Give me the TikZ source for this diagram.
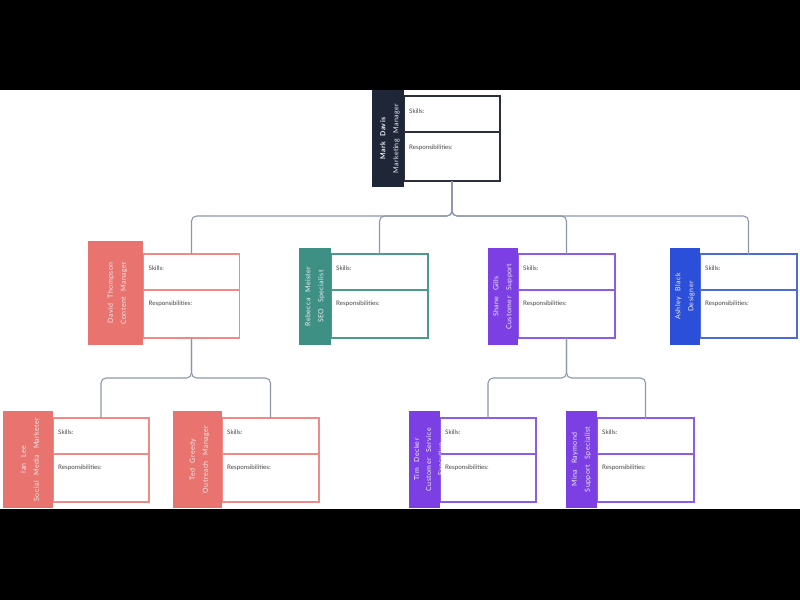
\documentclass[tikz,border=0pt]{standalone}
\usepackage{fontspec}
\setmainfont{Lato}
\newfontfamily\namefont{Lato}[LetterSpace=6,WordSpace=2.6]
\usetikzlibrary{calc}
\definecolor{navy}{HTML}{1F2638}
\definecolor{navyb}{HTML}{2B2F3B}
\definecolor{coral}{HTML}{E8736F}
\definecolor{coralb}{HTML}{EF8A86}
\definecolor{tealc}{HTML}{3F9084}
\definecolor{tealb}{HTML}{4C9A8E}
\definecolor{purp}{HTML}{7B3FE4}
\definecolor{purpb}{HTML}{8B5CEA}
\definecolor{bluec}{HTML}{2B4FD8}
\definecolor{blueb}{HTML}{4B6BDB}
\definecolor{linec}{HTML}{8C97AC}
\definecolor{txt}{HTML}{444444}
\begin{document}
\begin{tikzpicture}[x=1pt,y=-1pt,
  conn/.style={draw=linec, line width=1.1pt, rounded corners=5pt},
  colbox/.style={inner sep=0pt, outer sep=0pt, minimum height=97pt},
  card/.style={draw, fill=white, line width=1.3pt, inner sep=0pt, outer sep=0pt, minimum width=96pt, minimum height=84pt},
  divline/.style={line width=1.3pt},
  lbl/.style={anchor=west, inner sep=0pt, text=txt, font=\fontsize{6.2}{7}\selectfont},
  nametext/.style={rotate=90, align=center, text=white!94!black, inner sep=0pt, font=\namefont\fontsize{7}{13}\selectfont}]
\useasboundingbox (0,0) rectangle (800,600);

% ---------- Mark Davis ----------
\node[card, draw=navyb, minimum height=85pt] (md) at (452,138.5) {};
\draw[divline, navyb] ($(md.west)+(0,-6.5)$) -- ($(md.east)+(0,-6.5)$);
\node[colbox, fill=navy, minimum width=32pt] (mdc) at (388,138.5) {};
\node[nametext] (mdt) at ($(mdc.center)+(2,0)$) {\textbf{Mark Davis}\\Marketing Manager};
\node[lbl] (mds) at ($(md.north west)+(5,15)$) {Skills:};
\node[lbl] (mdr) at ($(md.west)+(5,9.5)$) {Responsibilities:};

% ---------- David Thompson ----------
\node[card, draw=coralb] (dt) at (191.5,296) {};
\draw[divline, coralb] ($(dt.west)+(0,-6)$) -- ($(dt.east)+(0,-6)$);
\node[colbox, fill=coral, minimum width=55pt, minimum height=104pt] (dtc) at (115.5,293) {};
\node[nametext] (dtt) at ($(dtc.center)+(2,0)$) {David Thompson\\Content Manager};
\node[lbl] (dts) at ($(dt.north west)+(5,14)$) {Skills:};
\node[lbl] (dtr) at ($(dt.west)+(5,8)$) {Responsibilities:};

% ---------- Rebecca Meister ----------
\node[card, draw=tealb, minimum width=97pt] (rm) at (379.5,296) {};
\draw[divline, tealb] ($(rm.west)+(0,-6)$) -- ($(rm.east)+(0,-6)$);
\node[colbox, fill=tealc, minimum width=32pt] (rmc) at (315,296.5) {};
\node[nametext] (rmt) at (rmc.center) {Rebecca Meister\\SEO Specialist};
\node[lbl] (rms) at ($(rm.north west)+(5,14)$) {Skills:};
\node[lbl] (rmr) at ($(rm.west)+(5,8)$) {Responsibilities:};

% ---------- Shane Gills ----------
\node[card, draw=purpb, minimum width=97pt] (sg) at (566.5,296) {};
\draw[divline, purpb] ($(sg.west)+(0,-6)$) -- ($(sg.east)+(0,-6)$);
\node[colbox, fill=purp, minimum width=30pt] (sgc) at (503,296.5) {};
\node[nametext] (sgt) at (sgc.center) {Shane Gills\\Customer Support};
\node[lbl] (sgs) at ($(sg.north west)+(5,14)$) {Skills:};
\node[lbl] (sgr) at ($(sg.west)+(5,8)$) {Responsibilities:};

% ---------- Ashley Black ----------
\node[card, draw=blueb, minimum width=97pt] (ab) at (748.5,296) {};
\draw[divline, blueb] ($(ab.west)+(0,-6)$) -- ($(ab.east)+(0,-6)$);
\node[colbox, fill=bluec, minimum width=30pt] (abc) at (685,296.5) {};
\node[nametext] (abt) at (abc.center) {Ashley Black\\Designer};
\node[lbl] (abs) at ($(ab.north west)+(5,14)$) {Skills:};
\node[lbl] (abr) at ($(ab.west)+(5,8)$) {Responsibilities:};

% ---------- Ian Lee ----------
\node[card, draw=coralb] (il) at (101,460) {};
\draw[divline, coralb] ($(il.west)+(0,-6)$) -- ($(il.east)+(0,-6)$);
\node[colbox, fill=coral, minimum width=50pt] (ilc) at (28,459.5) {};
\node[nametext] (ilt) at ($(ilc.center)+(2,0)$) {Ian Lee\\Social Media Marketer};
\node[lbl] (ils) at ($(il.north west)+(5,14)$) {Skills:};
\node[lbl] (ilr) at ($(il.west)+(5,8)$) {Responsibilities:};

% ---------- Ted Greedy ----------
\node[card, draw=coralb, minimum width=97pt] (tg) at (270.5,460) {};
\draw[divline, coralb] ($(tg.west)+(0,-6)$) -- ($(tg.east)+(0,-6)$);
\node[colbox, fill=coral, minimum width=49pt] (tgc) at (197.5,459.5) {};
\node[nametext] (tgt) at ($(tgc.center)+(2,0)$) {Ted Greedy\\Outreach Manager};
\node[lbl] (tgs) at ($(tg.north west)+(5,14)$) {Skills:};
\node[lbl] (tgr) at ($(tg.west)+(5,8)$) {Responsibilities:};

% ---------- Tim Decker ----------
\node[card, draw=purpb] (td) at (488,460) {};
\draw[divline, purpb] ($(td.west)+(0,-6)$) -- ($(td.east)+(0,-6)$);
\node[colbox, fill=purp, minimum width=31pt] (tdc) at (424.5,459.5) {};
\begin{scope}
\clip (tdc.south west) rectangle (tdc.north east);
\node[nametext, font=\namefont\fontsize{7}{12}\selectfont] (tdt) at ($(tdc.center)+(4,0)$) {Tim Decker\\Customer Service\\Executive};
\end{scope}
\node[lbl] (tds) at ($(td.north west)+(5,14)$) {Skills:};
\node[lbl] (tdr) at ($(td.west)+(5,8)$) {Responsibilities:};

% ---------- Mina Raymond ----------
\node[card, draw=purpb, minimum width=97pt] (mr) at (645.5,460) {};
\draw[divline, purpb] ($(mr.west)+(0,-6)$) -- ($(mr.east)+(0,-6)$);
\node[colbox, fill=purp, minimum width=31pt] (mrc) at (581.5,459.5) {};
\node[nametext] (mrt) at (mrc.center) {Mina Raymond\\Support Specialist};
\node[lbl] (mrs) at ($(mr.north west)+(5,14)$) {Skills:};
\node[lbl] (mrr) at ($(mr.west)+(5,8)$) {Responsibilities:};

% ---------- connectors ----------
\coordinate (bus1) at (452,216);
\draw[conn] (md.south) -- (bus1) -| (dt.north);
\draw[conn] (md.south) -- (bus1) -| (rm.north);
\draw[conn] (md.south) -- (bus1) -| (sg.north);
\draw[conn] (md.south) -- (bus1) -| (ab.north);
\coordinate (bus2) at (dt.south |- 0,378);
\draw[conn] (dt.south) -- (bus2) -| (il.north);
\draw[conn] (dt.south) -- (bus2) -| (tg.north);
\coordinate (bus3) at (sg.south |- 0,378);
\draw[conn] (sg.south) -- (bus3) -| (td.north);
\draw[conn] (sg.south) -- (bus3) -| (mr.north);

% ---------- letterbox bars ----------
\fill[black] (0,0) rectangle (800,90);
\fill[black] (0,509) rectangle (800,600);
\end{tikzpicture}
\end{document}
